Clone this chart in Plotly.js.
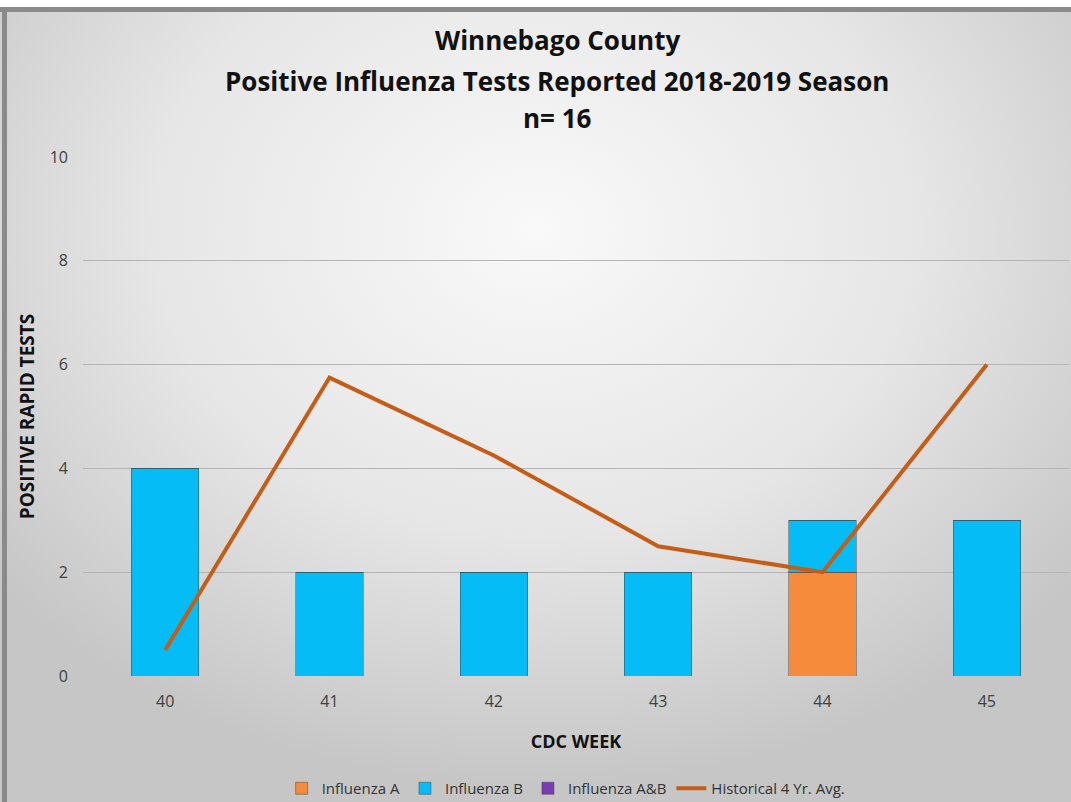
<!DOCTYPE html>
<html><head><meta charset="utf-8">
<script src="https://cdn.plot.ly/plotly-3.0.1.min.js"></script>
<style>
html,body{margin:0;padding:0;}
body{width:1071px;height:802px;overflow:hidden;background:#fff;}
#bg{position:absolute;left:0;top:7px;width:1071px;height:795px;
background: radial-gradient(ellipse 65% 70% at 50% 28%, #f9f9f9 0%, #e6e6e6 55%, #c6c6c6 100%);}
#ftop{position:absolute;left:0;top:7px;width:1071px;height:5px;background:#8a8a8a;}
#fleft{position:absolute;left:2px;top:7px;width:5px;height:795px;background:#8a8a8a;}
#chart{position:absolute;left:0;top:0;width:1071px;height:802px;}
</style></head><body>
<div id="bg"></div><div id="ftop"></div><div id="fleft"></div>
<div id="chart"></div>
<script>
const weeks = ['40','41','42','43','44','45'];
const fluA = [0,0,0,0,2,0];
const fluB = [4,2,2,2,1,3];
const fluAB = [0,0,0,0,0,0];
const hist4yr = [0.5,5.75,4.25,2.5,2,6];
const yTicks = [0,2,4,6,8,10];

const barLine = {width:1, color:'rgba(60,60,60,0.45)'};
const traces = [
 {type:'bar', name:'Influenza A', x:weeks, y:fluA, marker:{color:'#F58B3B', line:barLine}},
 {type:'bar', name:'Influenza B', x:weeks, y:fluB, marker:{color:'#05BCF6', line:barLine}},
 {type:'bar', name:'Influenza A&B', x:weeks, y:fluAB, marker:{color:'#7B3BB5', line:barLine}},
 {type:'scatter', mode:'lines', name:'Historical 4 Yr. Avg.', x:weeks, y:hist4yr, line:{color:'#C65D17', width:4}}
];
const F = 'Open Sans, sans-serif';
const titleFont = {family:F, size:26, color:'#111'};
const layout = {
 width:1071, height:802,
 paper_bgcolor:'rgba(0,0,0,0)', plot_bgcolor:'rgba(0,0,0,0)',
 margin:{l:83, r:2, t:157, b:126, autoexpand:false},
 barmode:'stack', bargap:0.59,
 showlegend:true,
 legend:{orientation:'h', x:0.49, xanchor:'center', xref:'paper', y:-0.185, yanchor:'top',
   font:{family:F, size:15, color:'#333'}, traceorder:'normal', bgcolor:'rgba(0,0,0,0)', itemwidth:30},
 xaxis:{type:'category', range:[-0.5,5.5], showgrid:false, zeroline:false, showline:false, automargin:false,
   ticks:'', tickfont:{family:F, size:16, color:'#404040'}, ticklabelstandoff:14,
   title:{text:'<b>CDC WEEK</b>', font:{family:F, size:18, color:'#111'}, standoff:24}},
 yaxis:{range:[0,10], tickvals:yTicks, showgrid:true, gridcolor:'#b5b5b5', gridwidth:1, zeroline:false, automargin:false,
   ticks:'', tickfont:{family:F, size:16, color:'#404040'}, ticklabelstandoff:14,
   title:{text:'<b>POSITIVE RAPID TESTS</b>', font:{family:F, size:19, color:'#111'}, standoff:10}},
 annotations:[]
};
const plotH = 802-157-126;
const titleLines = ['<b>Winnebago County</b>','<b>Positive Influenza Tests Reported 2018-2019 Season</b>','<b>n= 16</b>'];
const rows = [40, 81, 118];
titleLines.forEach((t,i)=>{
  layout.annotations.push({text:t, xref:'paper', yref:'paper', x:(557-83)/986, y:(802-126-rows[i])/plotH,
    showarrow:false, font:titleFont, yanchor:'middle', xanchor:'center'});
});
Plotly.newPlot('chart', traces, layout, {displayModeBar:false});
</script>
</body></html>
